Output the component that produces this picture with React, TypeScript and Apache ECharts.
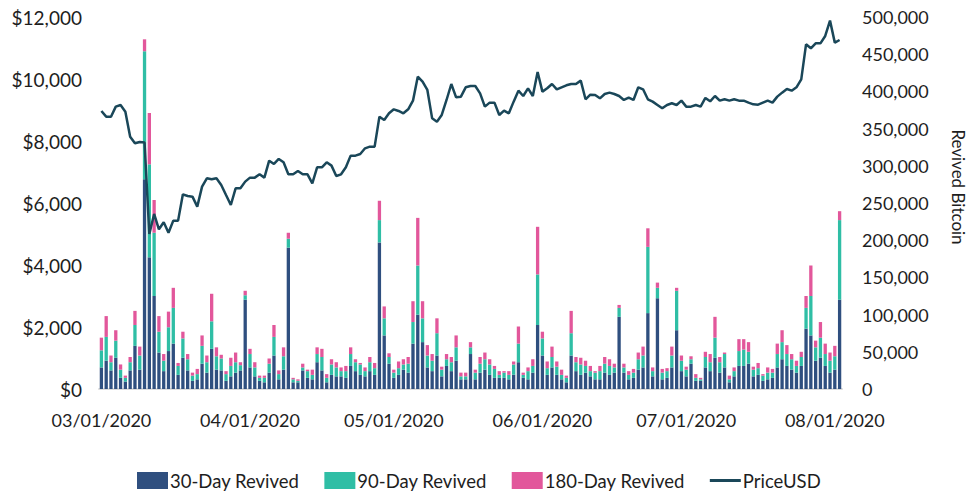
import React, { useEffect, useRef } from "react";
import * as echarts from "echarts";

// Daily categories: 03/01/2020 .. 08/02/2020
const startDate = Date.UTC(2020, 2, 1);
const dayCount = 155;
const dates: string[] = [];
for (let i = 0; i < dayCount; i++) {
  const d = new Date(startDate + i * 86400000);
  const mm = String(d.getUTCMonth() + 1).padStart(2, "0");
  const dd = String(d.getUTCDate()).padStart(2, "0");
  dates.push(`${mm}/${dd}/${d.getUTCFullYear()}`);
}

const revived30 = [
  29000, 38000, 25000, 42000, 15000, 10000, 25000, 58000, 26000, 282000,
  177000, 125000, 49000, 24000, 51000, 61000, 19000, 42000, 25000, 11000,
  13000, 34000, 22000, 54000, 26000, 25000, 11000, 17000, 22000, 25000,
  120000, 29000, 17000, 11000, 9000, 22000, 45000, 13000, 26000, 190000,
  9000, 9000, 25000, 15000, 13000, 36000, 25000, 9000, 19000, 17000,
  17000, 15000, 31000, 24000, 19000, 17000, 24000, 19000, 197000, 72000,
  34000, 15000, 19000, 26000, 22000, 61000, 100000, 63000, 29000, 24000,
  45000, 17000, 31000, 24000, 38000, 13000, 13000, 47000, 13000, 22000,
  26000, 19000, 15000, 15000, 15000, 13000, 19000, 36000, 15000, 13000,
  22000, 86000, 45000, 19000, 29000, 19000, 13000, 9000, 45000, 24000,
  19000, 22000, 17000, 13000, 13000, 22000, 19000, 22000, 97000, 22000,
  13000, 15000, 26000, 29000, 102000, 17000, 122000, 13000, 15000, 29000,
  79000, 24000, 17000, 34000, 11000, 11000, 29000, 24000, 42000, 22000,
  29000, 9000, 17000, 31000, 31000, 34000, 17000, 19000, 11000, 13000,
  15000, 29000, 40000, 31000, 26000, 22000, 31000, 81000, 72000, 38000,
  42000, 31000, 22000, 26000, 120000,
];

const revived90 = [
  23000, 32000, 11000, 23000, 11000, 5000, 11000, 28000, 19000, 172000,
  125000, 85000, 28000, 14000, 32000, 48000, 12000, 26000, 15000, 7000,
  7000, 24000, 14000, 37000, 18000, 16000, 9000, 14000, 14000, 7000,
  6000, 18000, 12000, 4000, 6000, 12000, 25000, 7000, 18000, 12000,
  4000, 2000, 4000, 9000, 6000, 11000, 18000, 6000, 14000, 12000,
  7000, 9000, 16000, 12000, 14000, 7000, 12000, 9000, 30000, 23000,
  9000, 7000, 9000, 7000, 12000, 29000, 66000, 32000, 16000, 14000,
  30000, 9000, 9000, 12000, 18000, 4000, 4000, 9000, 9000, 12000,
  14000, 14000, 12000, 4000, 7000, 6000, 14000, 25000, 4000, 11000,
  9000, 68000, 23000, 9000, 14000, 11000, 6000, 6000, 30000, 12000,
  14000, 9000, 7000, 9000, 11000, 12000, 12000, 7000, 12000, 7000,
  6000, 7000, 14000, 16000, 89000, 7000, 14000, 9000, 9000, 16000,
  53000, 14000, 9000, 6000, 4000, 2000, 14000, 12000, 27000, 14000,
  18000, 4000, 7000, 20000, 22000, 16000, 9000, 9000, 7000, 9000,
  7000, 18000, 23000, 16000, 14000, 9000, 12000, 28000, 53000, 18000,
  27000, 16000, 16000, 18000, 107000,
];

const revived180 = [
  17000, 28000, 9000, 14000, 7000, 3000, 7000, 19000, 12000, 16000,
  69000, 44000, 21000, 9000, 21000, 27000, 4000, 9000, 7000, 4000,
  7000, 14000, 9000, 37000, 12000, 5000, 4000, 11000, 13000, 4000,
  6000, 7000, 7000, 3000, 3000, 7000, 16000, 5000, 12000, 8000,
  2000, 2000, 5000, 2000, 7000, 9000, 11000, 5000, 7000, 7000,
  5000, 7000, 9000, 4000, 2000, 5000, 7000, 7000, 26000, 16000,
  5000, 4000, 9000, 7000, 9000, 28000, 64000, 23000, 14000, 9000,
  20000, 4000, 7000, 7000, 16000, 5000, 5000, 7000, 4000, 9000,
  9000, 7000, 4000, 5000, 2000, 5000, 4000, 23000, 3000, 5000,
  9000, 64000, 9000, 9000, 14000, 7000, 7000, 3000, 30000, 7000,
  9000, 7000, 7000, 2000, 7000, 9000, 9000, 5000, 4000, 5000,
  5000, 5000, 9000, 12000, 25000, 5000, 7000, 5000, 4000, 12000,
  4000, 7000, 4000, 4000, 5000, 2000, 7000, 11000, 28000, 7000,
  2000, 5000, 5000, 16000, 14000, 13000, 4000, 7000, 2000, 7000,
  5000, 14000, 16000, 12000, 7000, 7000, 7000, 16000, 41000, 9000,
  21000, 14000, 11000, 14000, 12000,
];

const priceUSD = [
  8970, 8785, 8785, 9108, 9162, 8946, 8140, 7925, 7968, 7950,
  5000, 5646, 5151, 5377, 5043, 5431, 5431, 6280, 6226, 6205,
  5882, 6527, 6796, 6764, 6796, 6581, 6258, 5936, 6473, 6473,
  6689, 6818, 6818, 6925, 6818, 7366, 7259, 7420, 7312, 6925,
  6925, 7033, 6925, 6925, 6635, 7151, 7151, 7312, 7205, 6872,
  6925, 7151, 7528, 7528, 7581, 7764, 7818, 7818, 8785, 8678,
  8893, 9022, 8968, 8893, 9022, 9302, 10076, 9915, 9646, 8731,
  8624, 8839, 9323, 9839, 9409, 9431, 9732, 9775, 9775, 9538,
  9108, 9237, 9237, 8839, 8979, 8893, 9270, 9624, 9452, 9700,
  9452, 10226, 9592, 9700, 9839, 9667, 9732, 9796, 9839, 9839,
  9947, 9345, 9495, 9484, 9377, 9517, 9560, 9517, 9452, 9323,
  9398, 9323, 9732, 9667, 9345, 9270, 9162, 9054, 9162, 9216,
  9162, 9302, 9108, 9108, 9162, 9108, 9388, 9280, 9452, 9302,
  9345, 9302, 9345, 9302, 9302, 9237, 9183, 9172, 9237, 9302,
  9237, 9431, 9560, 9678, 9624, 9732, 9990, 11119, 10990, 11151,
  11151, 11388, 11883, 11173, 11259,
];

const FONT = "Lato, 'Open Sans', sans-serif";
const TEXT = "#1e1e1e";
const LINE_COLOR = "#1a4759";

export default function App() {
  const ref = useRef<HTMLDivElement>(null);
  useEffect(() => {
    if (!ref.current) return;
    const chart = echarts.init(ref.current, undefined, { renderer: "svg" });
    const fmt = (v: number) => v.toLocaleString("en-US");
    chart.setOption({
      animation: false,
      backgroundColor: "#ffffff",
      textStyle: { fontFamily: FONT },
      grid: { left: 99, right: 135, top: 17, bottom: 104, containLabel: false },
      legend: {
        left: 137,
        top: 471,
        padding: 0,
        itemWidth: 31,
        itemHeight: 17,
        itemGap: 25,
        textStyle: { fontSize: 18.5, color: TEXT, fontFamily: FONT, padding: [0, 0, 0, -3] },
        data: [
          { name: "30-Day Revived", icon: "rect" },
          { name: "90-Day Revived", icon: "rect" },
          { name: "180-Day Revived", icon: "rect" },
          { name: "PriceUSD", icon: "path://M0,0 L31,0 L31,3 L0,3 Z", itemStyle: { color: LINE_COLOR } },
        ],
      },
      xAxis: {
        type: "category",
        data: dates,
        axisTick: { show: false },
        axisLine: { show: true, lineStyle: { color: "#dcdcdc", width: 2 } },
        axisLabel: {
          interval: (idx: number, val: string) => val.slice(3, 5) === "01",
          color: TEXT,
          fontSize: 18,
          margin: 22,
          fontFamily: FONT,
        },
      },
      yAxis: [
        {
          type: "value",
          min: 0,
          max: 12000,
          interval: 2000,
          splitLine: { show: false },
          axisLine: { show: false },
          axisTick: { show: false },
          axisLabel: {
            color: TEXT,
            fontSize: 19,
            margin: 17,
            fontFamily: FONT,
            formatter: (v: number) => "$" + fmt(v),
          },
        },
        {
          type: "value",
          min: 0,
          max: 500000,
          interval: 50000,
          splitLine: { show: false },
          axisLine: { show: false },
          axisTick: { show: false },
          axisLabel: {
            color: TEXT,
            fontSize: 18,
            margin: 20,
            fontFamily: FONT,
            formatter: (v: number) => fmt(v),
          },
        },
      ],
      graphic: [
        {
          type: "text",
          x: 958,
          y: 187,
          rotation: -Math.PI / 2,
          style: {
            text: "Revived Bitcoin",
            fontSize: 17,
            fontFamily: FONT,
            fill: TEXT,
            textAlign: "center",
            textVerticalAlign: "middle",
          },
        },
      ],
      series: [
        {
          name: "30-Day Revived",
          type: "bar",
          stack: "revived",
          yAxisIndex: 1,
          barCategoryGap: "31%",
          itemStyle: { color: "#2f4f7f" },
          data: revived30,
        },
        {
          name: "90-Day Revived",
          type: "bar",
          stack: "revived",
          yAxisIndex: 1,
          barCategoryGap: "31%",
          itemStyle: { color: "#2fbea5" },
          data: revived90,
        },
        {
          name: "180-Day Revived",
          type: "bar",
          stack: "revived",
          yAxisIndex: 1,
          barCategoryGap: "31%",
          itemStyle: { color: "#e2579b" },
          data: revived180,
        },
        {
          name: "PriceUSD",
          type: "line",
          yAxisIndex: 0,
          symbol: "none",
          z: 5,
          lineStyle: { color: LINE_COLOR, width: 2.5 },
          itemStyle: { color: LINE_COLOR },
          data: priceUSD,
        },
      ],
    });
    return () => chart.dispose();
  }, []);
  return (
    <div
      ref={ref}
      style={{ position: "fixed", left: 0, top: 0, width: 977, height: 493 }}
    />
  );
}
